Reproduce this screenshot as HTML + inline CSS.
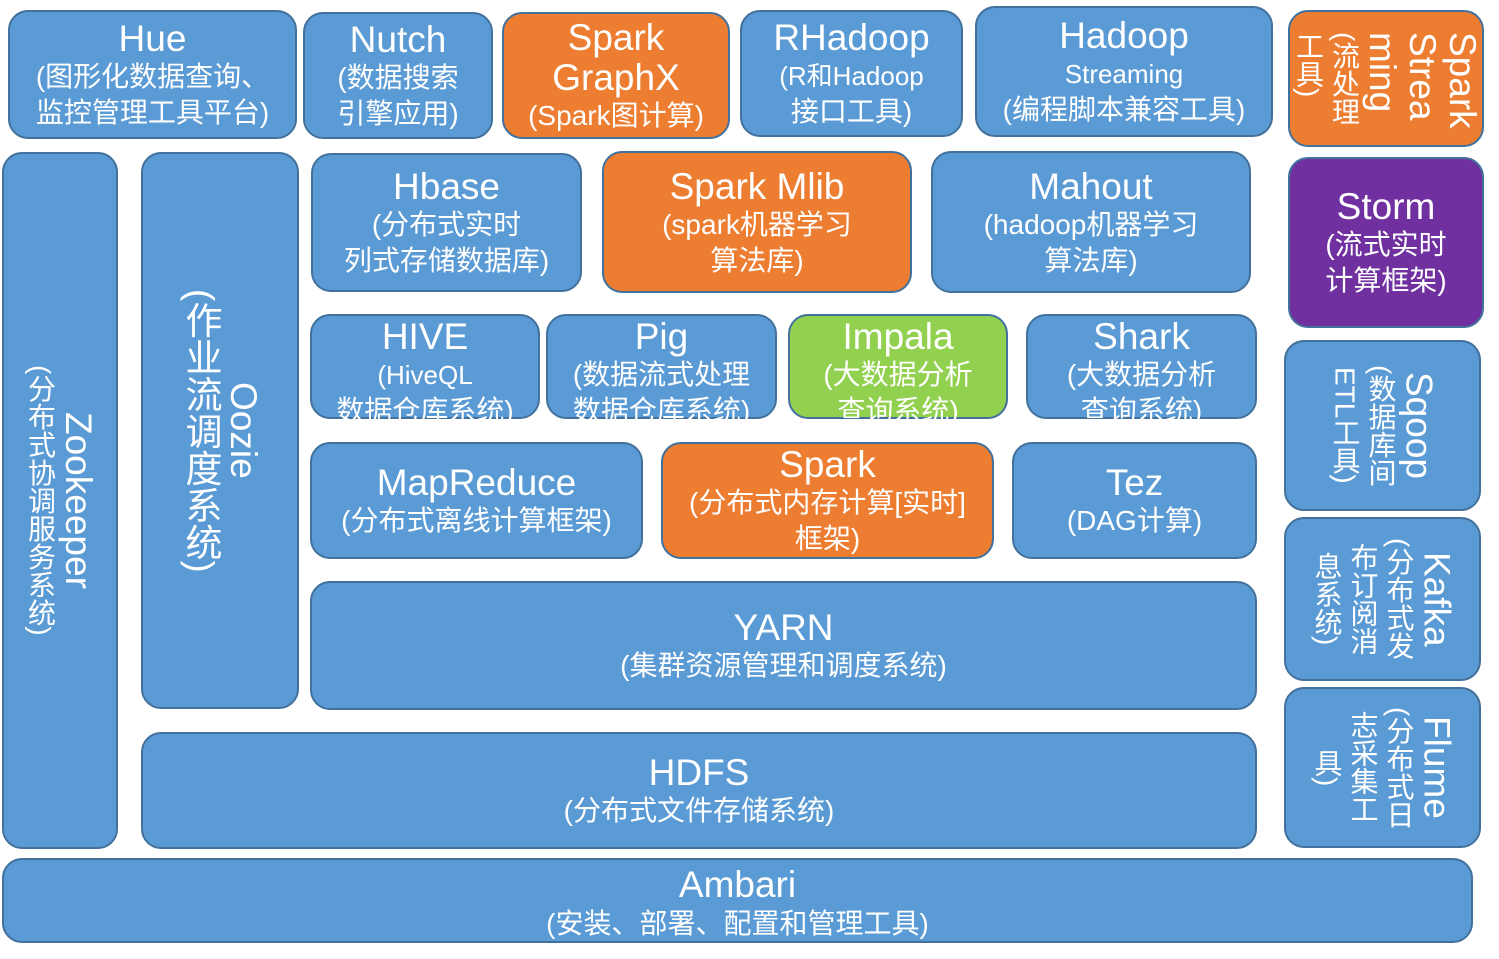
<!DOCTYPE html>
<html><head><meta charset="utf-8"><style>
body{margin:0;width:1499px;height:959px;background:#fff;overflow:hidden;position:relative;font-family:"Liberation Sans","Noto Sans CJK SC",sans-serif;color:#fff}
.b{position:absolute;box-sizing:border-box;background:#5B9BD5;border:2px solid #41719C;border-radius:20px;display:flex;flex-direction:column;align-items:center;justify-content:center;text-align:center;overflow:visible}
.o{background:#ED7D31}
.g{background:#92D050}
.p{background:#7030A0}
.t{font-size:37px;line-height:41px;white-space:nowrap}
.s{font-size:28px;line-height:36px;white-space:nowrap}
.m{font-size:26px;line-height:36px;white-space:nowrap}
.v{writing-mode:vertical-rl;text-align:center}
.v div{display:block;white-space:nowrap}
.v .t{line-height:40px}
.v .s{line-height:36px}
</style></head><body>

<div class="b" style="left:8px;top:10px;width:289px;height:129px"><div class="t">Hue</div><div class="s">(图形化数据查询、<br>监控管理工具平台)</div></div>
<div class="b" style="left:303px;top:12px;width:190px;height:127px"><div class="t">Nutch</div><div class="s">(数据搜索<br>引擎应用)</div></div>
<div class="b o" style="left:502px;top:12px;width:228px;height:127px"><div class="t" style="line-height:40px">Spark<br>GraphX</div><div class="s">(Spark图计算)</div></div>
<div class="b" style="left:740px;top:10px;width:223px;height:127px"><div class="t">RHadoop</div><div class="m">(R和Hadoop</div><div class="s">接口工具)</div></div>
<div class="b" style="left:975px;top:6px;width:298px;height:131px"><div class="t">Hadoop</div><div class="m">Streaming</div><div class="s">(编程脚本兼容工具)</div></div>

<div class="b o" style="left:1288px;top:10px;width:196px;height:137px;justify-content:flex-start;padding-top:20px"><div class="v" style="text-align:start"><div class="t">Spark<br>Strea<br>ming</div><div class="s">(流处理<br>工具)</div></div></div>

<div class="b" style="left:2px;top:152px;width:116px;height:697px"><div class="v"><div class="t">Zookeeper</div><div class="s">(分布式协调服务系统)</div></div></div>
<div class="b" style="left:141px;top:152px;width:158px;height:557px"><div class="v"><div class="t">Oozie</div><div class="s" style="font-size:37px;line-height:46px">(作业流调度系统)</div></div></div>

<div class="b" style="left:311px;top:153px;width:271px;height:139px"><div class="t">Hbase</div><div class="s">(分布式实时<br>列式存储数据库)</div></div>
<div class="b o" style="left:602px;top:151px;width:310px;height:142px"><div class="t">Spark Mlib</div><div class="s">(spark机器学习<br>算法库)</div></div>
<div class="b" style="left:931px;top:151px;width:320px;height:142px"><div class="t">Mahout</div><div class="s">(hadoop机器学习<br>算法库)</div></div>
<div class="b p" style="left:1288px;top:157px;width:196px;height:171px"><div class="t">Storm</div><div class="s">(流式实时<br>计算框架)</div></div>

<div class="b" style="left:310px;top:314px;width:230px;height:105px;justify-content:flex-start"><div class="t">HIVE</div><div class="m">(HiveQL</div><div class="s">数据仓库系统)</div></div>
<div class="b" style="left:546px;top:314px;width:231px;height:105px;justify-content:flex-start"><div class="t">Pig</div><div class="s">(数据流式处理<br>数据仓库系统)</div></div>
<div class="b g" style="left:788px;top:314px;width:220px;height:105px;justify-content:flex-start"><div class="t">Impala</div><div class="s">(大数据分析<br>查询系统)</div></div>
<div class="b" style="left:1026px;top:314px;width:231px;height:105px;justify-content:flex-start"><div class="t">Shark</div><div class="s">(大数据分析<br>查询系统)</div></div>

<div class="b" style="left:1284px;top:340px;width:197px;height:171px"><div class="v"><div class="t">Sqoop</div><div class="s">(数据库间<br>ETL工具)</div></div></div>

<div class="b" style="left:310px;top:442px;width:333px;height:117px"><div class="t">MapReduce</div><div class="s">(分布式离线计算框架)</div></div>
<div class="b o" style="left:661px;top:442px;width:333px;height:117px"><div class="t">Spark</div><div class="s">(分布式内存计算[实时]<br>框架)</div></div>
<div class="b" style="left:1012px;top:442px;width:245px;height:117px"><div class="t">Tez</div><div class="s">(DAG计算)</div></div>

<div class="b" style="left:1284px;top:517px;width:197px;height:164px"><div class="v"><div class="t">Kafka</div><div class="s">(分布式发<br>布订阅消<br>息系统)</div></div></div>

<div class="b" style="left:310px;top:581px;width:947px;height:129px"><div class="t">YARN</div><div class="s">(集群资源管理和调度系统)</div></div>
<div class="b" style="left:1284px;top:687px;width:197px;height:161px"><div class="v"><div class="t">Flume</div><div class="s">(分布式日<br>志采集工<br>具)</div></div></div>

<div class="b" style="left:141px;top:732px;width:1116px;height:117px"><div class="t">HDFS</div><div class="s">(分布式文件存储系统)</div></div>
<div class="b" style="left:2px;top:858px;width:1471px;height:85px;padding-top:8px"><div class="t" style="line-height:38px">Ambari</div><div class="s" style="line-height:40px">(安装、部署、配置和管理工具)</div></div>

</body></html>
